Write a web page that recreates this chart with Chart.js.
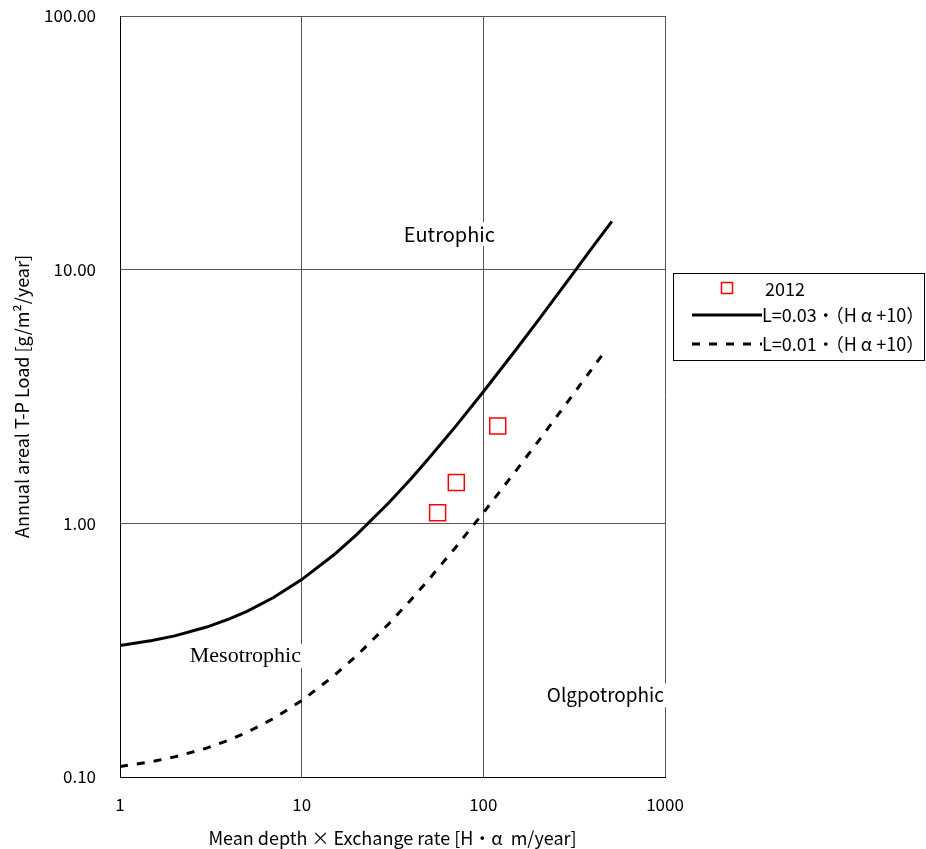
<!DOCTYPE html>
<html>
<head>
<meta charset="utf-8">
<script src="https://cdn.jsdelivr.net/npm/chart.js@4.4.1/dist/chart.umd.min.js"></script>
<style>
  html, body { margin: 0; padding: 0; background: #fff; }
  #wrap { width: 926px; height: 849px; }
</style>
</head>
<body>
<div id="wrap"><canvas id="grafico"></canvas></div>
<script>
// dados
const xTicks = [1, 10, 100, 1000];
const yTicks = [0.1, 1, 10, 100];

const pontos2012X = [56, 71, 120];
const pontos2012Y = [1.10, 1.45, 2.42];

const linhaAltaX = [1, 1.5, 2, 3, 4, 5, 7, 10, 15, 20, 30, 40, 50, 70, 100, 150, 200, 300, 400, 510];
const linhaAltaY = [0.33, 0.345, 0.36, 0.39, 0.42, 0.45, 0.51, 0.60, 0.75, 0.90, 1.20, 1.50, 1.80, 2.40, 3.30, 4.80, 6.30, 9.30, 12.3, 15.5];

const linhaBaixaX = [1, 1.5, 2, 3, 4, 5, 7, 10, 15, 20, 30, 40, 50, 70, 100, 150, 200, 300, 400, 460];
const linhaBaixaY = [0.11, 0.115, 0.12, 0.13, 0.14, 0.15, 0.17, 0.20, 0.25, 0.30, 0.40, 0.50, 0.60, 0.80, 1.10, 1.60, 2.10, 3.10, 4.10, 4.70];

const rotulos = [
    { texto: 'Eutrophic', x: 65, y: 13.8, fonte: '20px "Noto Sans CJK JP", sans-serif' },
    { texto: 'Mesotrophic', x: 4.9, y: 0.30, fonte: '22px "Liberation Serif", serif' },
    { texto: 'Olgpotrophic', x: 470, y: 0.21, fonte: '19px "Noto Sans CJK JP", sans-serif' }
];

const fonteJP = '"Noto Sans CJK JP", "Noto Sans", sans-serif';

const toPts = (xs, ys) => xs.map((x, i) => ({ x: x, y: ys[i] }));

// rótulos das regiões com fundo branco
const pluginRotulos = {
    id: 'rotulos',
    afterDatasetsDraw(chart) {
        const ctx = chart.ctx;
        const sx = chart.scales.x, sy = chart.scales.y;
        ctx.save();
        ctx.textAlign = 'center';
        ctx.textBaseline = 'middle';
        rotulos.forEach(r => {
            ctx.font = r.fonte;
            const px = sx.getPixelForValue(r.x);
            const py = sy.getPixelForValue(r.y);
            const w = ctx.measureText(r.texto).width;
            ctx.fillStyle = '#fff';
            ctx.fillRect(px - w / 2 - 2, py - 12, w + 4, 24);
            ctx.fillStyle = '#000';
            ctx.fillText(r.texto, px, py);
        });
        ctx.restore();
    }
};

// legenda desenhada à direita, fora da área do gráfico
const pluginLegenda = {
    id: 'legendaLateral',
    afterDraw(chart) {
        const ctx = chart.ctx;
        const x0 = 673.5, y0 = 273.5, w = 251, h = 87;
        ctx.save();
        ctx.fillStyle = '#fff';
        ctx.fillRect(x0, y0, w, h);
        ctx.strokeStyle = '#000';
        ctx.lineWidth = 1;
        ctx.strokeRect(x0, y0, w, h);
        ctx.font = '18px ' + fonteJP;
        ctx.textBaseline = 'middle';
        ctx.textAlign = 'left';
        const ds = chart.data.datasets;
        // 2012
        ctx.strokeStyle = ds[0].borderColor;
        ctx.lineWidth = 1.5;
        ctx.strokeRect(721.5, 282.5, 11, 11);
        ctx.fillStyle = '#000';
        ctx.fillText(ds[0].label, 765, 289);
        // linhas
        [[ds[1], 315], [ds[2], 344]].forEach(([d, y]) => {
            ctx.strokeStyle = '#000';
            ctx.lineWidth = 3;
            ctx.setLineDash(d.borderDash || []);
            ctx.beginPath();
            ctx.moveTo(692, y);
            ctx.lineTo(762, y);
            ctx.stroke();
            ctx.setLineDash([]);
            ctx.fillText(d.label, 762, y);
        });
        ctx.restore();
    }
};

new Chart(document.getElementById('grafico'), {
    type: 'scatter',
    data: {
        datasets: [
            {
                label: '2012',
                data: toPts(pontos2012X, pontos2012Y),
                pointStyle: 'rect',
                pointRadius: 11.3,
                borderColor: '#ff0000',
                backgroundColor: 'rgba(0,0,0,0)',
                borderWidth: 1.5
            },
            {
                label: 'L=0.03・（H α +10）',
                type: 'line',
                data: toPts(linhaAltaX, linhaAltaY),
                borderColor: '#000',
                borderWidth: 3,
                pointRadius: 0,
                tension: 0,
                fill: false
            },
            {
                label: 'L=0.01・（H α +10）',
                type: 'line',
                data: toPts(linhaBaixaX, linhaBaixaY),
                borderColor: '#000',
                borderWidth: 3,
                borderDash: [8, 9],
                pointRadius: 0,
                tension: 0,
                fill: false
            }
        ]
    },
    options: {
        responsive: true,
        maintainAspectRatio: false,
        animation: false,
        layout: { padding: { left: 0, right: 261, top: 16, bottom: 0 } },
        plugins: {
            legend: { display: false },
            tooltip: { enabled: false }
        },
        scales: {
            x: {
                type: 'logarithmic',
                min: 1,
                max: 1000,
                afterBuildTicks: axis => { axis.ticks = xTicks.map(v => ({ value: v })); },
                afterFit: axis => { axis.height = 72; axis.paddingLeft = 0; axis.paddingRight = 0; },
                grid: { color: '#555', drawTicks: false },
                border: { color: '#000', width: 1 },
                ticks: {
                    padding: 17,
                    color: '#000',
                    font: { family: fonteJP, size: 17 },
                    maxRotation: 0,
                    callback: v => String(v)
                },
                title: {
                    display: true,
                    text: 'Mean depth × Exchange rate [H・α  m/year]',
                    color: '#000',
                    font: { family: fonteJP, size: 18 },
                    padding: { top: 0, bottom: 0 }
                }
            },
            y: {
                type: 'logarithmic',
                min: 0.1,
                max: 100,
                afterBuildTicks: axis => { axis.ticks = yTicks.map(v => ({ value: v })); },
                afterFit: axis => { axis.width = 120; axis.paddingTop = 0; axis.paddingBottom = 0; },
                grid: { color: '#555', drawTicks: false },
                border: { color: '#000', width: 1 },
                ticks: {
                    padding: 24,
                    color: '#000',
                    font: { family: fonteJP, size: 17 },
                    callback: v => Number(v).toFixed(2)
                },
                title: {
                    display: true,
                    text: 'Annual areal T-P Load [g/m²/year]',
                    color: '#000',
                    font: { family: fonteJP, size: 18 },
                    padding: { top: 11, bottom: 0 }
                }
            }
        }
    },
    plugins: [pluginRotulos, pluginLegenda]
});
</script>
</body>
</html>
